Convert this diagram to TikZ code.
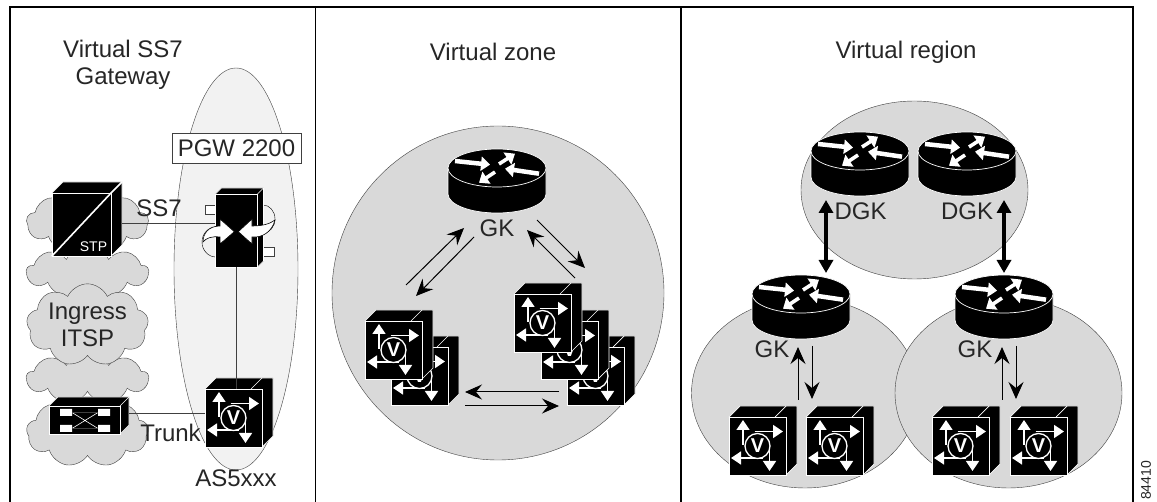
\documentclass[tikz,border=0pt]{standalone}
\usepackage{fontspec}
\setmainfont{Liberation Sans}
\usetikzlibrary{arrows.meta,shapes.symbols,shapes.geometric}
\definecolor{zoneColor}{HTML}{d9d9d9}
\definecolor{pgwColor}{HTML}{f2f2f2}
\definecolor{lineColor}{HTML}{404040}
\tikzset{
	zone/.style={draw=lineColor,fill=zoneColor,ellipse,inner sep=0pt},
	puff/.style={draw=lineColor,fill=zoneColor,cloud,cloud puffs=9,cloud puff arc=130,cloud ignores aspect,inner sep=0pt,minimum width=122pt},
	lab/.style={text=black!85,font=\fontsize{24}{27}\selectfont,align=center,inner sep=0pt},
	flow/.style={-{Stealth[length=17pt,width=15pt,inset=6pt]},line width=1pt},
	thick flow/.style={{Triangle[length=13pt,width=14pt]}-{Triangle[length=13pt,width=14pt]},line width=3.2pt},
	link/.style={draw=lineColor,line width=1pt},
	white tip/.style={-{Triangle[length=10pt,width=13pt]},draw=white,fill=white,line width=1.4pt},
	router tip/.style={-{Triangle[length=9pt,width=14pt]},draw=white,fill=white},
	vgw/.pic={
		\fill[black,draw=white,line width=.7pt] (-28.5,-29) -- ++(11,-11) -- ++(57,0) -- ++(0,58) -- ++(-11,11) -- cycle;
		\draw[white,line width=.7pt] (17.5,-29) -- ++(11,-11);
		\node[fill=black,draw=white,line width=.7pt,minimum width=57pt,minimum height=58pt,inner sep=0pt] (-body) at (0,0) {};
		\draw[white tip] (-14.5,-1) -- (-14.5,-26);
		\draw[white tip] (-3,-14.5) -- (25.5,-14.5);
		\draw[white tip] (5,12) -- (-26.5,12);
		\draw[white tip] (12,-4) -- (12,25);
		\node[draw=white,fill=black,circle,line width=1.3pt,minimum size=25pt,inner sep=0pt,text=white,font=\fontsize{20}{20}\bfseries\selectfont] (-v) at (0,0) {V};
	},
	router/.pic={
		\path[fill=black,draw=white,line width=.7pt] (-49,-19) -- (-49,7) arc[start angle=180,end angle=360,x radius=49,y radius=-19] -- (49,-19) -- cycle;
		\node[fill=black,draw=white,ellipse,line width=.7pt,minimum width=98pt,minimum height=38pt,inner sep=0pt] (-top) at (0,-19) {};
		\draw[router tip,line width=4.5pt] (-42,-26) -- (-7,-22.3);
		\draw[router tip,line width=3.6pt] (2,-23) -- (18,-33.3);
		\draw[router tip,line width=4.5pt] (42,-13.3) -- (8,-18.3);
		\draw[router tip,line width=3.6pt] (-2,-15) -- (-18,-4.3);
	},
}
\begin{document}
\begin{tikzpicture}[x=1pt,y=-1pt]
	\useasboundingbox (0,0) rectangle (1157,502);
	\fill[white] (0,0) rectangle (1157,502);
	% frame
	\coordinate (f_1) at (10,7);
	\coordinate (f_2) at (1133,7);
	\draw[line width=1.1pt] (10,502) -- (f_1) -- (f_2) -- (1133,502);
	\draw[line width=1.1pt] (315.5,7) -- (315.5,502);
	\draw[line width=1.1pt] (681,7) -- (681,502);
	\node[lab] (title_a) at (123,65) {Virtual SS7\\Gateway};
	\node[lab] (title_b) at (493,52) {Virtual zone};
	\node[lab] (title_c) at (906,52) {Virtual region};
	\node[rotate=90,text=black!85,font=\fontsize{14}{14}\selectfont,anchor=west,inner sep=0pt] (fig_no) at (1146,500) {84410};

	% left panel
	\node[draw=lineColor,fill=pgwColor,ellipse,inner sep=0pt,minimum width=124pt,minimum height=402pt] (pgw_zone) at (236,269) {};
	\node[puff,minimum height=52pt] (cloud_b) at (87.5,272) {};
	\node[puff,minimum height=62pt] (cloud_a) at (87.5,222) {};
	\node[puff,minimum height=52pt] (cloud_d) at (87.5,378) {};
	\node[puff,minimum height=70pt] (cloud_e) at (87.5,432) {};
	\node[puff,minimum height=70pt,lab,text=black!85,draw=lineColor,inner sep=0pt] (cloud_c) at (87.5,325) {Ingress\\ITSP};
	\node[draw=lineColor,fill=white,minimum width=129pt,minimum height=30pt,inner sep=0pt,lab] (pgw_lab) at (236.5,148) {PGW 2200};

	% stp
	\path[fill=black,draw=white,line width=.7pt] (52,193) -- ++(11,-11) -- ++(59,0) -- ++(0,63) -- ++(-11,11) -- cycle;
	\draw[white,line width=.7pt] (111,193) -- ++(11,-11);
	\node[fill=black,draw=white,line width=.7pt,minimum width=59pt,minimum height=63pt,inner sep=0pt] (stp) at (81.5,224.5) {};
	\draw[white,line width=1.6pt] (stp.south west) -- (stp.north east) -- ++(11,-11);
	\node[text=white,font=\fontsize{14}{14}\selectfont,inner sep=0pt] (stp_lab) at (93.5,247) {STP};

	% softswitch
	\draw[link,fill=white] (263,248) rectangle (274,257);
	\draw[link,fill=white] (205,206) rectangle (216,215);
	\node[draw=black,ellipse,minimum width=28pt,minimum height=30pt,inner sep=0pt] (ring_a) at (216,242) {};
	\node[draw=black,ellipse,minimum width=24pt,minimum height=28pt,inner sep=0pt] (ring_b) at (263,219) {};
	\path[fill=black,draw=white,line width=.7pt] (215.5,194) -- ++(6,-6) -- ++(42,0) -- ++(0,73) -- ++(-6,6) -- cycle;
	\draw[white,line width=.7pt] (257.5,194) -- ++(6,-6);
	\node[fill=black,draw=white,line width=.7pt,minimum width=42pt,minimum height=73pt,inner sep=0pt] (pgw) at (236.5,230.5) {};
	\path[fill=white,draw=black,line width=.6pt] (220,219) -- (234.3,231.7) -- (220,244) -- (220,237) .. controls (212,236) and (206,238) .. (203,242) .. controls (203,234) and (208,226) .. (220,226) -- cycle;
	\path[fill=white,draw=black,line width=.6pt] (252,219) -- (238.3,231.7) -- (252,244) -- (252,237) .. controls (262,238) and (272,232) .. (275,220) .. controls (270,224) and (262,226) .. (252,226) -- cycle;

	\pic (as) at (233.5,418) {vgw};
	\node[lab] (as_lab) at (236,478) {AS5xxx};

	% switch
	\path[fill=black,draw=white,line width=.7pt] (49,406) -- ++(9,-9) -- ++(71,0) -- ++(0,28) -- ++(-9,9) -- cycle;
	\draw[white,line width=.7pt] (120,406) -- ++(9,-9);
	\node[fill=black,draw=white,line width=.7pt,minimum width=71pt,minimum height=28pt,inner sep=0pt] (sw) at (84.5,420) {};
	\fill[white] (60,409) rectangle (72,416) (60,425) rectangle (72,432) (98,409) rectangle (110,416) (98,425) rectangle (110,432);
	\draw[white,line width=.6pt] (72,412.5) -- (98,428.5) (72,428.5) -- (98,412.5);
	\draw[lineColor,line width=.6pt] (72,412.5) -- (98,412.5) (72,428.5) -- (98,428.5);

	\coordinate (stp_out) at (122,223.5);
	\coordinate (pgw_in) at (215,223.5);
	\path (stp_out) edge[link] (pgw_in);
	\path (pgw) edge[link] (as-body.north -| pgw);
	\coordinate (sw_out) at (129,414);
	\coordinate (as_in) at (205,414);
	\path (sw_out) edge[link] (as_in);
	\node[lab] (ss7_lab) at (159,208) {SS7};
	\node[lab] (trunk_lab) at (170.5,433) {Trunk};

	% middle panel
	\node[zone,minimum width=332pt,minimum height=334pt] (zone_m) at (498,293) {};
	\pic (gk_m) at (497,187) {router};
	\node[lab] (gk_m_lab) at (497,228) {GK};
	\pic (gw_b) at (419.5,376) {vgw};
	\pic (gw_a) at (393.5,350) {vgw};
	\pic (gw_e) at (595.5,376) {vgw};
	\pic (gw_d) at (569.5,350) {vgw};
	\pic (gw_c) at (542.5,323) {vgw};
	\coordinate (p_1) at (406,285);
	\coordinate (p_2) at (464,228);
	\coordinate (p_3) at (474,237);
	\coordinate (p_4) at (416,296);
	\coordinate (p_5) at (537,220);
	\coordinate (p_6) at (585,268);
	\coordinate (p_7) at (575,278);
	\coordinate (p_8) at (527,230);
	\coordinate (p_9) at (559,392);
	\coordinate (p_10) at (465,392);
	\coordinate (p_11) at (465,406);
	\coordinate (p_12) at (559,406);
	\path (p_1) edge[flow] (p_2);
	\path (p_3) edge[flow] (p_4);
	\path (p_5) edge[flow] (p_6);
	\path (p_7) edge[flow] (p_8);
	\path (p_9) edge[flow] (p_10);
	\path (p_11) edge[flow] (p_12);

	% right panel
	\node[zone,minimum width=227pt,minimum height=178pt] (zone_t) at (914.5,190) {};
	\node[zone,minimum width=227pt,minimum height=190pt] (zone_l) at (805,393) {};
	\node[zone,minimum width=227pt,minimum height=190pt] (zone_r) at (1008.5,393) {};
	\pic (dgk_a) at (860,170) {router};
	\pic (dgk_b) at (967,170) {router};
	\pic (gk_l) at (801,313) {router};
	\pic (gk_r) at (1004,313) {router};
	\node[lab] (dgk_a_lab) at (860.5,211) {DGK};
	\node[lab] (dgk_b_lab) at (967,211) {DGK};
	\node[lab] (gk_l_lab) at (772,349) {GK};
	\node[lab] (gk_r_lab) at (975,349) {GK};
	\pic (gw_f) at (757.5,446) {vgw};
	\pic (gw_g) at (834.5,446) {vgw};
	\pic (gw_h) at (960.5,446) {vgw};
	\pic (gw_i) at (1038.5,446) {vgw};
	\coordinate (t_1) at (826,200);
	\coordinate (t_2) at (826,273);
	\coordinate (t_3) at (1004,200);
	\coordinate (t_4) at (1004,273);
	\path (t_1) edge[thick flow] (t_2);
	\path (t_3) edge[thick flow] (t_4);
	\coordinate (l_1) at (798,400);
	\coordinate (l_2) at (798,347);
	\coordinate (l_3) at (812,346);
	\coordinate (l_4) at (812,399);
	\coordinate (r_1) at (1002,400);
	\coordinate (r_2) at (1002,347);
	\coordinate (r_3) at (1016,346);
	\coordinate (r_4) at (1016,399);
	\path (l_1) edge[flow] (l_2);
	\path (l_3) edge[flow] (l_4);
	\path (r_1) edge[flow] (r_2);
	\path (r_3) edge[flow] (r_4);
\end{tikzpicture}
\end{document}
